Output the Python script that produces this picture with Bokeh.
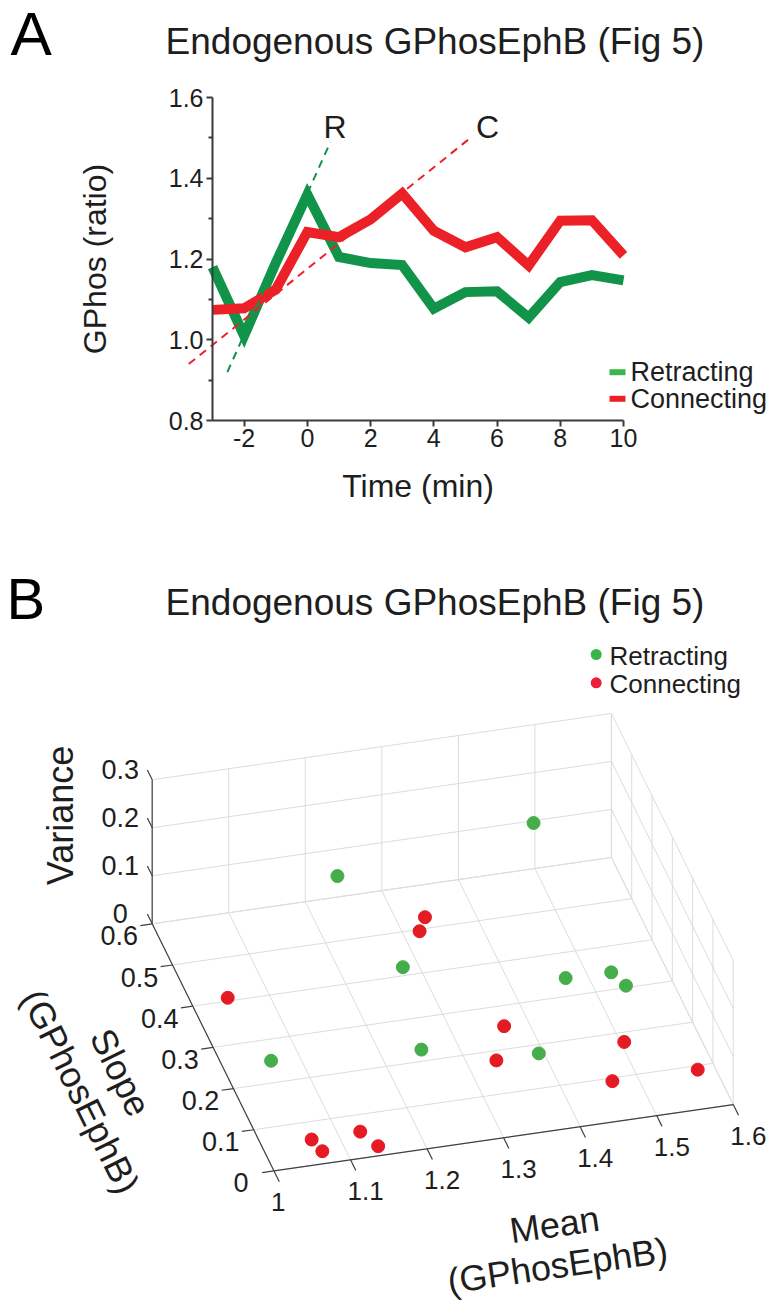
import numpy as np
from bokeh.plotting import figure
from bokeh.models import Range1d, FixedTicker, PrintfTickFormatter, Label
from bokeh.layouts import column
from bokeh.embed import file_html
from bokeh.resources import INLINE
from bokeh.core.properties import value

FONT = "Liberation Sans"
INK = "#1e1e1e"

# ---------------- Panel A data ----------------
time_min = [-3, -2, -1, 0, 1, 2, 3, 4, 5, 6, 7, 8, 9, 10]
retracting = [1.18, 1.01, 1.19, 1.36, 1.205, 1.19, 1.185, 1.077, 1.118, 1.12, 1.055, 1.143, 1.16, 1.147]
connecting = [1.074, 1.078, 1.124, 1.267, 1.254, 1.298, 1.362, 1.27, 1.229, 1.254, 1.184, 1.295, 1.296, 1.209]
retract_fit_t = [-2.53, 0.73]
retract_fit_y = [0.92, 1.49]
connect_fit_t = [-3.75, 5.16]
connect_fit_y = [0.94, 1.50]
x_ticks = [-2, 0, 2, 4, 6, 8, 10]
y_ticks = [0.8, 1.0, 1.2, 1.4, 1.6]
y_minor = [0.9, 1.1, 1.3, 1.5]
series_names = ["Retracting", "Connecting"]

# ---------------- Panel B data ----------------
ret_mean = [1.220, 1.468, 1.271, 1.244, 1.054, 1.463, 1.522, 1.532, 1.385]
ret_slope = [0.517, 0.486, 0.387, 0.194, 0.218, 0.309, 0.307, 0.272, 0.147]
ret_var = [0.12, 0.20, 0.03, 0.03, 0.03, 0.03, 0.03, 0.03, 0.03]
con_mean = [1.328, 1.313, 1.359, 1.329, 1.496, 1.458, 1.569, 1.039, 1.059, 1.065, 1.123, 1.139]
con_slope = [0.493, 0.463, 0.220, 0.145, 0.145, 0.060, 0.058, 0.375, 0.037, 0.007, 0.039, 0.011]
con_var = [0.03, 0.03, 0.03, 0.03, 0.03, 0.03, 0.03, 0.03, 0.02, 0.02, 0.02, 0.01]
mean_ticks = [1.0, 1.1, 1.2, 1.3, 1.4, 1.5, 1.6]
mean_labels = ["1", "1.1", "1.2", "1.3", "1.4", "1.5", "1.6"]
slope_ticks = [0.0, 0.1, 0.2, 0.3, 0.4, 0.5, 0.6]
slope_labels = ["0", "0.1", "0.2", "0.3", "0.4", "0.5", "0.6"]
var_ticks = [0.0, 0.1, 0.2, 0.3]
var_labels = ["0", "0.1", "0.2", "0.3"]

W = 766
HA = 548
HB = 1301 - HA

# ================= Panel A =================
GREEN_LINE = "#11944a"
RED_LINE = "#ec2127"
PXT = 411 / 13.0      # px per minute
PXG = 323 / 0.8       # px per ratio unit


def tx(X):  # page x -> time units
    return -3 + (X - 212) / PXT


def gy(Y):  # page y -> ratio units
    return 1.6 - (Y - 97) / PXG


pa = figure(width=W, height=HA, output_backend="svg", toolbar_location=None,
            x_range=Range1d(tx(0), tx(W)), y_range=Range1d(gy(HA), gy(0)),
            min_border=0, outline_line_color=None)
pa.xgrid.visible = False
pa.ygrid.visible = False

for ax in (pa.xaxis[0], pa.yaxis[0]):
    ax.axis_line_color = "#3a3a3a"
    ax.axis_line_width = 2
    ax.major_tick_line_color = "#3a3a3a"
    ax.major_tick_line_width = 2
    ax.minor_tick_line_color = "#3a3a3a"
    ax.minor_tick_line_width = 2
    ax.major_tick_in = 0
    ax.major_tick_out = 6
    ax.minor_tick_in = 0
    ax.minor_tick_out = 4
    ax.major_label_text_font = FONT
    ax.major_label_text_font_size = "25px"
    ax.major_label_text_color = INK
    ax.axis_label_text_font = FONT
    ax.axis_label_text_font_size = "32px"
    ax.axis_label_text_font_style = "normal"
    ax.axis_label_text_color = INK

xa = pa.xaxis[0]
xa.fixed_location = 0.8
xa.bounds = (-3, 10)
xa.ticker = FixedTicker(ticks=x_ticks, minor_ticks=[])
xa.formatter = PrintfTickFormatter(format="%d")
xa.major_label_standoff = 2
xa.axis_label = "Time (min)"
xa.axis_label_standoff = 18

ya = pa.yaxis[0]
ya.fixed_location = -3
ya.bounds = (0.8, 1.6)
ya.ticker = FixedTicker(ticks=y_ticks, minor_ticks=y_minor)
ya.formatter = PrintfTickFormatter(format="%.1f")
ya.major_label_standoff = 3
ya.axis_label = "GPhos (ratio)"
ya.axis_label_standoff = 53

pa.line(time_min, retracting, line_width=10, line_color=GREEN_LINE, line_join="miter")
pa.line(time_min, connecting, line_width=10, line_color=RED_LINE, line_join="miter")
pa.line(retract_fit_t, retract_fit_y, line_width=2, line_color=GREEN_LINE, line_dash="8 6")
pa.line(connect_fit_t, connect_fit_y, line_width=2, line_color=RED_LINE, line_dash="8 6")


def lab_a(X, Y, text, size, align="center", color=INK):
    pa.add_layout(Label(x=tx(X), y=gy(Y), text=text, text_font=FONT, text_font_size=size,
                        text_color=color, text_align=align, text_baseline="middle"))


# legend (panel A)
leg_cols = ["#3cb54a", RED_LINE]
for i, (nm, c) in enumerate(zip(series_names, leg_cols)):
    yy = 371.7 + i * 26.6
    pa.line([tx(609), tx(625)], [gy(yy), gy(yy)], line_width=6, line_color=c, line_cap="butt")
    lab_a(630, yy, nm, "27px", align="left")

lab_a(334.5, 126.7, "R", "32px")
lab_a(487, 126.7, "C", "32px")
lab_a(434.5, 41, "Endogenous GPhosEphB (Fig 5)", "37px")
lab_a(10, 32.5, "A", "62px", align="left", color="black")

# ================= Panel B =================
GREEN_PT = "#45ae4a"
RED_PT = "#e41b24"
GRID = "#dcdcdc"
AXC = "#404040"

pb = figure(width=W, height=HB, output_backend="svg", toolbar_location=None,
            x_range=Range1d(0, W), y_range=Range1d(1301, HA),
            x_axis_type=None, y_axis_type=None, min_border=0, outline_line_color=None)

ORIG = np.array([273.5, 1170.4])
E_MEAN = np.array([765.4, -110.6])
E_SLOPE = np.array([-203.0, -411.8])
E_VAR = np.array([0.0, -480.0])


def proj(m, s, v):
    m = np.asarray(m, dtype=float)
    s = np.asarray(s, dtype=float)
    v = np.asarray(v, dtype=float)
    x = ORIG[0] + (m - 1) * E_MEAN[0] + s * E_SLOPE[0] + v * E_VAR[0]
    y = ORIG[1] + (m - 1) * E_MEAN[1] + s * E_SLOPE[1] + v * E_VAR[1]
    return x, y


m0, m1 = mean_ticks[0], mean_ticks[-1]
s0, s1 = slope_ticks[0], slope_ticks[-1]
v0, v1 = var_ticks[0], var_ticks[-1]

gx, gyy = [], []


def seg(a, b):
    xa_, ya_ = proj(*a)
    xb_, yb_ = proj(*b)
    gx.append([float(xa_), float(xb_)])
    gyy.append([float(ya_), float(yb_)])


for m in mean_ticks:
    seg((m, s0, v0), (m, s1, v0))      # floor
    seg((m, s1, v0), (m, s1, v1))      # back wall
for s in slope_ticks:
    seg((m0, s, v0), (m1, s, v0))      # floor
    seg((m1, s, v0), (m1, s, v1))      # right wall
for v in var_ticks:
    seg((m0, s1, v), (m1, s1, v))      # back wall
    seg((m1, s0, v), (m1, s1, v))      # right wall
pb.multi_line(gx, gyy, line_color=GRID, line_width=1)

# axes
ax_x, ax_y = [], []
for a, b in [((m0, s0, v0), (m1, s0, v0)), ((m0, s0, v0), (m0, s1, v0)), ((m0, s1, v0), (m0, s1, v1))]:
    xa_, ya_ = proj(*a)
    xb_, yb_ = proj(*b)
    ax_x.append([float(xa_), float(xb_)])
    ax_y.append([float(ya_), float(yb_)])


def unit(v):
    return v / np.linalg.norm(v)


u_ms = -unit(E_SLOPE) * 12
u_mm = -unit(E_MEAN) * 12
u_vs = unit(E_SLOPE) * 11
for m in mean_ticks:
    x0_, y0_ = proj(m, s0, v0)
    ax_x.append([float(x0_), float(x0_ + u_ms[0])])
    ax_y.append([float(y0_), float(y0_ + u_ms[1])])
for s in slope_ticks:
    x0_, y0_ = proj(m0, s, v0)
    ax_x.append([float(x0_), float(x0_ + u_mm[0])])
    ax_y.append([float(y0_), float(y0_ + u_mm[1])])
for v in var_ticks:
    x0_, y0_ = proj(m0, s1, v)
    ax_x.append([float(x0_), float(x0_ + u_vs[0])])
    ax_y.append([float(y0_), float(y0_ + u_vs[1])])
pb.multi_line(ax_x, ax_y, line_color=AXC, line_width=1.2)

# tick labels
TK = dict(text_font=value(FONT), text_color=INK, text_baseline="middle")
mx, my = proj(mean_ticks, [s0] * len(mean_ticks), [v0] * len(mean_ticks))
pb.text(x=list(mx - 3), y=list(my + 31), text=mean_labels, text_align="left",
        text_font_size="26px", **TK)
sx, sy = proj([m0] * len(slope_ticks), slope_ticks, [v0] * len(slope_ticks))
pb.text(x=list(sx - 33), y=list(sy + 12), text=slope_labels, text_align="center",
        text_font_size="27px", **TK)
vx, vy = proj([m0] * len(var_ticks), [s1] * len(var_ticks), var_ticks)
pb.text(x=list(vx - 32), y=list(vy - 10), text=var_labels, text_align="center",
        text_font_size="27px", **TK)

# axis labels
AL = dict(text_font=value(FONT), text_font_size="36px", text_color=INK,
          text_align="center", text_baseline="middle")
pb.text(x=[60], y=[815], text=["Variance"], angle=np.pi / 2, **AL)
ang_mean = float(np.arctan2(-E_MEAN[1], E_MEAN[0]))
pb.text(x=[554, 557], y=[1224, 1265], text=["Mean", "(GPhosEphB)"], angle=ang_mean, **AL)
ang_slope = -float(np.arctan2(-E_SLOPE[1], -E_SLOPE[0]))
pb.text(x=[120, 80], y=[1072, 1091], text=["Slope", "(GPhosEphB)"], angle=ang_slope, **AL)

# points
rx, ry = proj(ret_mean, ret_slope, ret_var)
cx, cy = proj(con_mean, con_slope, con_var)
pb.scatter(list(rx), list(ry), size=13, marker="circle", fill_color=GREEN_PT, line_color=GREEN_PT)
pb.scatter(list(cx), list(cy), size=13, marker="circle", fill_color=RED_PT, line_color=RED_PT)

# legend (panel B)
pb.scatter([595.7, 595.7], [654, 682.3], size=11, marker="circle",
           fill_color=["#39b54a", "#ec1c3a"], line_color=None)
pb.text(x=[609, 609], y=[655, 683.3], text=series_names, text_align="left",
        text_baseline="middle", text_font=value(FONT), text_font_size="26px", text_color=INK)

# title and panel letter
pb.text(x=[434.5], y=[601.7], text=["Endogenous GPhosEphB (Fig 5)"], text_align="center",
        text_baseline="middle", text_font=value(FONT), text_font_size="37px", text_color=INK)
pb.text(x=[6], y=[597.5], text=["B"], text_align="left", text_baseline="middle",
        text_font=value(FONT), text_font_size="58px", text_color="black")

layout = column(pa, pb, spacing=0)
open("out.html", "w").write(file_html(layout, INLINE))
